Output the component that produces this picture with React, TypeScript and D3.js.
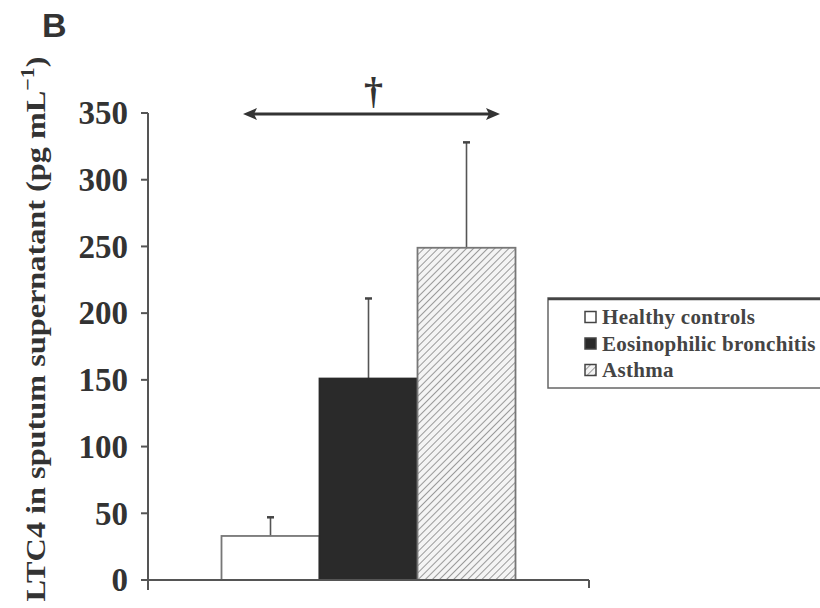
import React, { useEffect, useRef } from "react";
import * as d3 from "d3";

const groups = ["Healthy controls", "Eosinophilic bronchitis", "Asthma"];
const means = [33, 151, 249];
const sem = [14, 60, 79];
const yTicks = [0, 50, 100, 150, 200, 250, 300, 350];

const serif = "'Liberation Serif', 'Times New Roman', serif";

const App = () => {
  const ref = useRef<SVGSVGElement | null>(null);

  useEffect(() => {
    const width = 820;
    const height = 608;
    const svg = d3.select(ref.current).attr("width", width).attr("height", height);
    svg.selectAll("*").remove();

    const y = d3.scaleLinear().domain([0, 350]).range([580, 113]);
    const x = d3.scaleBand().domain(groups).range([148, 589]).paddingInner(0).paddingOuter(0.75);

    const defs = svg.append("defs");
    const pat = defs.append("pattern")
      .attr("id", "hatch")
      .attr("patternUnits", "userSpaceOnUse")
      .attr("width", 5)
      .attr("height", 5)
      .attr("patternTransform", "rotate(45)");
    pat.append("rect").attr("width", 5).attr("height", 5).attr("fill", "#f4f4f4");
    pat.append("line")
      .attr("x1", 0).attr("y1", 0).attr("x2", 0).attr("y2", 5)
      .attr("stroke", "#9a9a9a").attr("stroke-width", 2);

    const fills = ["#ffffff", "#2a2a2a", "url(#hatch)"];

    // error bars (upper only)
    const err = svg.append("g");
    groups.forEach((g, i) => {
      const cx = x(g)! + x.bandwidth() / 2;
      err.append("line")
        .attr("x1", cx).attr("x2", cx)
        .attr("y1", y(means[i])).attr("y2", y(means[i] + sem[i]))
        .attr("stroke", "#555").attr("stroke-width", 1.6);
      err.append("line")
        .attr("x1", cx - 3.5).attr("x2", cx + 3.5)
        .attr("y1", y(means[i] + sem[i])).attr("y2", y(means[i] + sem[i]))
        .attr("stroke", "#444").attr("stroke-width", 2.5);
    });

    svg.append("g")
      .selectAll("rect")
      .data(groups)
      .enter()
      .append("rect")
      .attr("x", d => x(d)!)
      .attr("width", x.bandwidth())
      .attr("y", (d, i) => y(means[i]))
      .attr("height", (d, i) => y(0) - y(means[i]))
      .attr("fill", (d, i) => fills[i])
      .attr("stroke", (d, i) => (i === 1 ? "#2a2a2a" : "#777"))
      .attr("stroke-width", 1.8);

    // axes
    const axisCol = "#555";
    svg.append("line")
      .attr("x1", 148).attr("x2", 148)
      .attr("y1", y(350)).attr("y2", 590)
      .attr("stroke", axisCol).attr("stroke-width", 2);
    svg.append("line")
      .attr("x1", 141).attr("x2", x.range()[1])
      .attr("y1", y(0)).attr("y2", y(0))
      .attr("stroke", axisCol).attr("stroke-width", 2);
    svg.append("line")
      .attr("x1", x.range()[1]).attr("x2", x.range()[1])
      .attr("y1", y(0)).attr("y2", y(0) + 8)
      .attr("stroke", axisCol).attr("stroke-width", 2);

    const ticks = svg.append("g");
    yTicks.forEach(t => {
      ticks.append("line")
        .attr("x1", 141).attr("x2", 148)
        .attr("y1", y(t)).attr("y2", y(t))
        .attr("stroke", axisCol).attr("stroke-width", 2);
      ticks.append("text")
        .attr("x", 128)
        .attr("y", y(t))
        .attr("dy", "0.34em")
        .attr("text-anchor", "end")
        .attr("font-family", serif)
        .attr("font-weight", "bold")
        .attr("font-size", "33px")
        .attr("fill", "#333")
        .text(t);
    });

    // y title
    const title = svg.append("text")
      .attr("transform", "translate(45,329) rotate(-90)")
      .attr("text-anchor", "middle")
      .attr("font-family", serif)
      .attr("font-weight", "bold")
      .attr("font-size", "28px")
      .attr("textLength", 545)
      .attr("lengthAdjust", "spacingAndGlyphs")
      .attr("fill", "#333");
    title.append("tspan").text("LTC4 in sputum supernatant (pg mL");
    title.append("tspan").attr("dy", -11).attr("font-size", "19px").text("\u22121");
    title.append("tspan").attr("dy", 11).text(")");

    // panel letter
    svg.append("text")
      .attr("x", 42).attr("y", 37)
      .attr("font-family", "'Liberation Sans', Arial, sans-serif")
      .attr("font-weight", "bold")
      .attr("font-size", "34px")
      .attr("fill", "#333")
      .text("B");

    // significance arrow
    const ay = 114;
    const ax0 = 243;
    const ax1 = 500;
    svg.append("line")
      .attr("x1", ax0 + 8).attr("x2", ax1 - 8)
      .attr("y1", ay).attr("y2", ay)
      .attr("stroke", "#333").attr("stroke-width", 3);
    const head = d3.path();
    head.moveTo(ax0, ay); head.lineTo(ax0 + 14, ay - 6); head.lineTo(ax0 + 11, ay); head.lineTo(ax0 + 14, ay + 6); head.closePath();
    head.moveTo(ax1, ay); head.lineTo(ax1 - 14, ay - 6); head.lineTo(ax1 - 11, ay); head.lineTo(ax1 - 14, ay + 6); head.closePath();
    svg.append("path").attr("d", head.toString()).attr("fill", "#333");
    svg.append("text")
      .attr("x", (ax0 + ax1) / 2 + 2).attr("y", 104)
      .attr("text-anchor", "middle")
      .attr("font-family", serif)
      .attr("font-weight", "bold")
      .attr("font-size", "38px")
      .attr("fill", "#333")
      .text("\u2020");

    // legend
    const lg = svg.append("g");
    lg.append("rect")
      .attr("x", 548).attr("y", 298)
      .attr("width", 300).attr("height", 90)
      .attr("fill", "#fff")
      .attr("stroke", "#666").attr("stroke-width", 1.5);
    lg.append("line")
      .attr("x1", 548).attr("x2", 820)
      .attr("y1", 299).attr("y2", 299)
      .attr("stroke", "#444").attr("stroke-width", 2.5);
    groups.forEach((g, i) => {
      const cy = 317 + i * 26.5;
      lg.append("rect")
        .attr("x", 585).attr("y", cy - 5.5)
        .attr("width", 11).attr("height", 11)
        .attr("fill", fills[i])
        .attr("stroke", "#444").attr("stroke-width", 1.5);
      lg.append("text")
        .attr("x", 602).attr("y", cy)
        .attr("dy", "0.35em")
        .attr("font-family", serif)
        .attr("font-weight", "bold")
        .attr("font-size", "21px")
        .attr("letter-spacing", "0.3px")
        .attr("fill", "#444")
        .text(g);
    });
  }, []);

  return <svg ref={ref} style={{ position: "absolute", left: 0, top: 0 }}></svg>;
};

export default App;
